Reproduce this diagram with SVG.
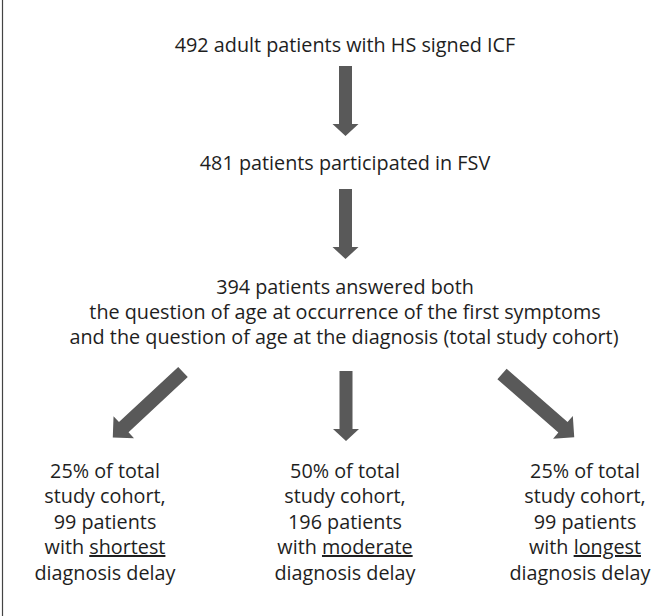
<svg xmlns="http://www.w3.org/2000/svg" width="652" height="616" viewBox="0 0 652 616">
<style>
  text { font-family: "Open Sans", "Noto Sans", "DejaVu Sans", sans-serif; font-size: 19.8px; fill: #1e1e1e; text-anchor: middle; }
  .u { text-decoration: underline; }
  .arrow { fill: #595959; }
</style>
<defs>
  <path id="arr" d="M -6.5 0 H 6.5 V 58 H 13 L 0 70 L -13 58 H -6.5 Z"/>
  <path id="darr" d="M -7 0 H 7 V 81 H 15 L 0 96 L -15 81 H -7 Z"/>
</defs>
<rect x="0" y="0" width="652" height="616" fill="#ffffff"/>
<line x1="2.5" y1="0" x2="2.5" y2="616" stroke="#444444" stroke-width="1.2"/>

<g id="n1"><text x="345" y="52">492 adult patients with HS signed ICF</text></g>
<g id="n2"><text x="345" y="170">481 patients participated in FSV</text></g>
<g id="n3">
  <text x="345" y="294">394 patients answered both</text>
  <text x="345" y="319">the question of age at occurrence of the first symptoms</text>
  <text x="344" y="344">and the question of age at the diagnosis (total study cohort)</text>
</g>
<g id="n4">
  <text x="105" y="478">25% of total</text>
  <text x="105" y="503">study cohort,</text>
  <text x="105" y="529">99 patients</text>
  <text x="105" y="554">with <tspan class="u">shortest</tspan></text>
  <text x="105" y="580">diagnosis delay</text>
</g>
<g id="n5">
  <text x="345" y="478">50% of total</text>
  <text x="345" y="503">study cohort,</text>
  <text x="345" y="529">196 patients</text>
  <text x="345" y="554">with <tspan class="u">moderate</tspan></text>
  <text x="345" y="580">diagnosis delay</text>
</g>
<g id="n6">
  <text x="585" y="478">25% of total</text>
  <text x="585" y="503">study cohort,</text>
  <text x="585" y="529">99 patients</text>
  <text x="585" y="554">with <tspan class="u">longest</tspan></text>
  <text x="580" y="580">diagnosis delay</text>
</g>

<g id="connectors" class="arrow">
  <use href="#arr" transform="translate(345.5,66)"/>
  <use href="#arr" transform="translate(345.5,189)"/>
  <use href="#arr" transform="translate(346,371)"/>
  <use href="#darr" transform="translate(183,372) rotate(47)"/>
  <use href="#darr" transform="translate(502,374) rotate(-48.8)"/>
</g>
</svg>
